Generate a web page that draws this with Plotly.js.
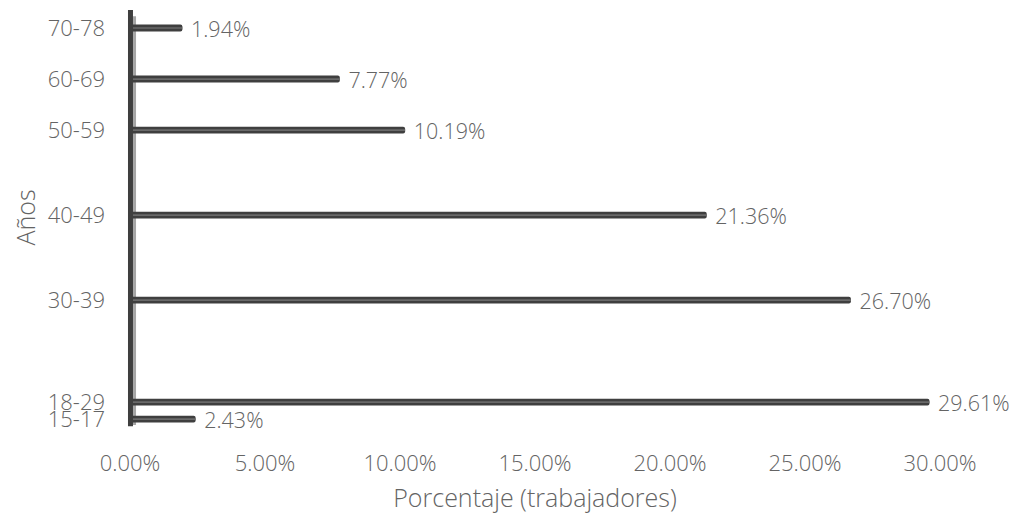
<!DOCTYPE html>
<html>
<head>
<meta charset="utf-8">
<script src="https://cdn.plot.ly/plotly-3.0.1.min.js"></script>
<style>html,body{margin:0;padding:0;background:#fff;}#chart{width:1011px;height:517px;}</style>
</head>
<body>
<div id="chart"></div>
<script>
const categories = ["15-17", "18-29", "30-39", "40-49", "50-59", "60-69", "70-78"];
const percentages = [2.43, 29.61, 26.70, 21.36, 10.19, 7.77, 1.94];
const yPositions = [0, 1, 7, 12, 17, 20, 23];
const xTicks = [0, 5, 10, 15, 20, 25, 30];

const fontFam = "'Open Sans', 'Segoe UI', sans-serif";
const grey = "#646464";

const barMain = {
  type: "bar", orientation: "h",
  x: percentages, y: yPositions,
  width: 0.4,
  marker: {color: "#3f3f3f", line: {width: 0}, cornerradius: 2},
  text: percentages.map(v => "\u00a0" + v.toFixed(2) + "%"),
  textposition: "outside",
  constraintext: "none",
  cliponaxis: false,
  textfont: {family: fontFam, size: 21.5, color: grey, weight: 300},
  hoverinfo: "skip"
};
const barStripe = {
  type: "bar", orientation: "h",
  x: percentages, y: yPositions,
  width: 0.1,
  marker: {color: "#6a6a6a", line: {width: 0}},
  hoverinfo: "skip"
};

const layout = {
  width: 1011, height: 517,
  margin: {l: 130, r: 71, t: 10, b: 92},
  paper_bgcolor: "#fff", plot_bgcolor: "#fff",
  barmode: "overlay",
  showlegend: false,
  font: {family: fontFam, color: grey, weight: 300},
  xaxis: {
    range: [0, 30],
    tickvals: xTicks,
    ticktext: xTicks.map(v => v.toFixed(2) + "%"),
    showgrid: false, zeroline: false, showline: false,
    ticks: "", ticklabelstandoff: 23,
    tickfont: {size: 22, color: grey, family: fontFam, weight: 300},
    title: {text: "Porcentaje (trabajadores)", font: {size: 25, color: grey, family: fontFam, weight: 300}, standoff: 13}
  },
  yaxis: {
    range: [-0.35, 24.06],
    tickvals: yPositions,
    ticktext: categories,
    showgrid: false, zeroline: false, showline: false,
    ticks: "", ticklabelstandoff: 24,
    tickfont: {size: 22, color: grey, family: fontFam, weight: 300},
    title: {text: "Años", font: {size: 25, color: grey, family: fontFam, weight: 300}, standoff: 4}
  },
  shapes: [
    {type: "line", xref: "paper", yref: "paper", x0: 0.0056, x1: 0.0056, y0: 0, y1: 0.985,
     line: {color: "#a6a6a6", width: 3}, layer: "below"},
    {type: "line", xref: "paper", yref: "paper", x0: 0.0006, x1: 0.0006, y0: -0.003, y1: 1,
     line: {color: "#3f3f3f", width: 5}, layer: "above"}
  ]
};

Plotly.newPlot("chart", [barMain, barStripe], layout, {displayModeBar: false, staticPlot: true});
</script>
</body>
</html>
